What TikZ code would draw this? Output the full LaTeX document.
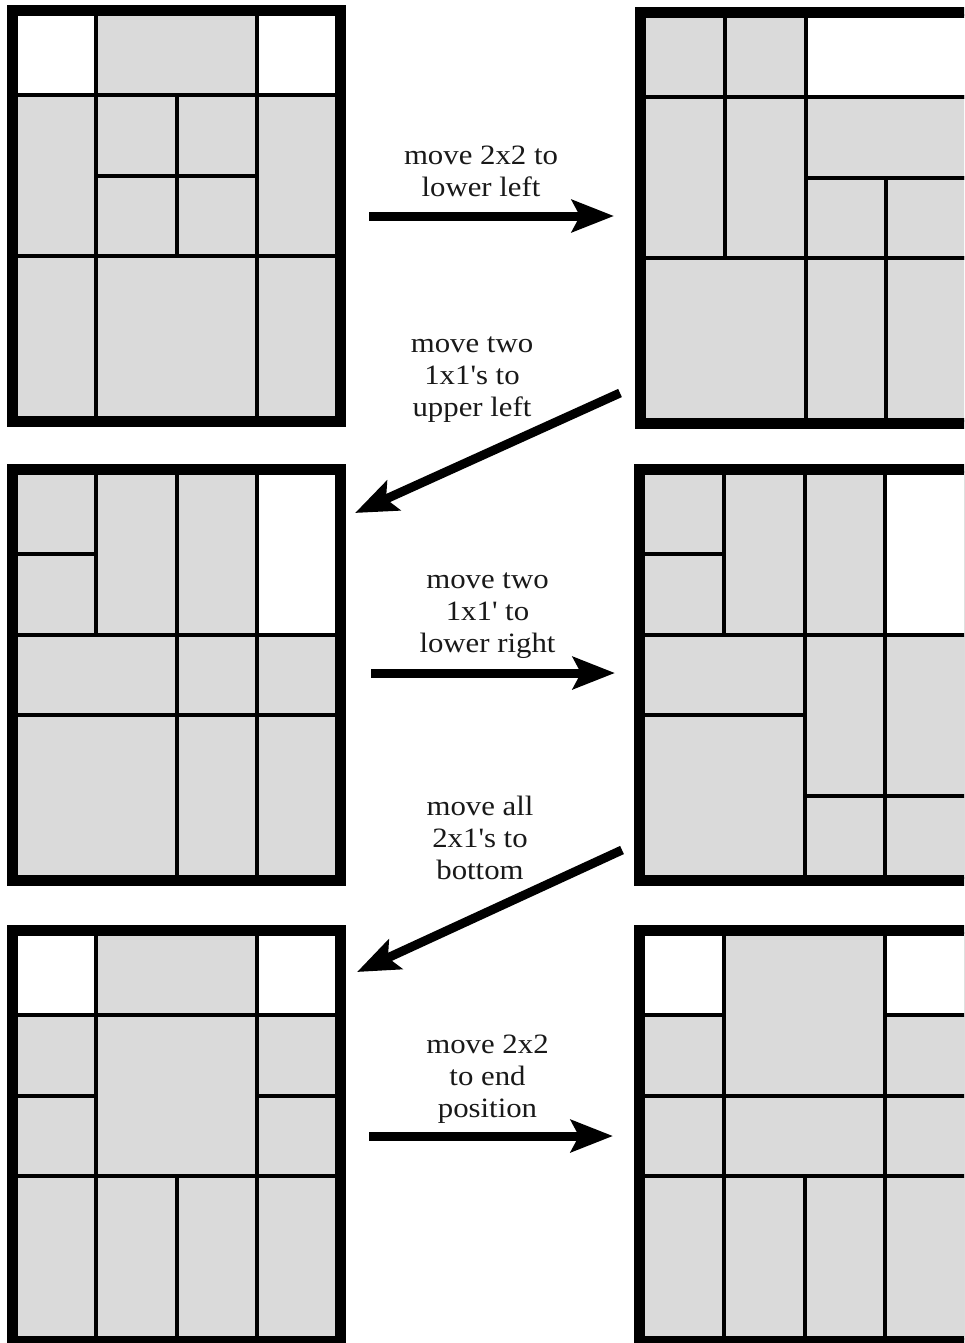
\documentclass[tikz,border=0pt]{standalone}
\usepackage{fontspec}
\usetikzlibrary{arrows.meta}
\newfontfamily\lblfont{Liberation Serif}[FakeStretch=1.1]
\definecolor{cellgray}{RGB}{218,218,218}
\newcommand\piecebox[4]{\filldraw[piece] (#1,#2) rectangle ++(#3,#4);}
\newcommand\holebox[4]{\filldraw[hole] (#1,#2) rectangle ++(#3,#4);}
\newcommand\boardframe{\draw[boardborder] ([shift={(-4.5pt,4.5pt)}]0,0) rectangle ([shift={(4.5pt,-4.5pt)}]4,5);}
\tikzset{
  piece/.style={fill=cellgray, draw=black, line width=4pt},
  hole/.style={fill=white, draw=black, line width=4pt},
  boardborder/.style={draw=black, line width=9pt},
  leftgrid/.style={x=80.25pt, y=-80.8pt},
  rightgrid/.style={x=80.8pt, y=-80.8pt},
  movearrow/.style={line width=9pt, -{Stealth[length=42pt, width=32pt, inset=8pt]}},
  lbl/.style={inner sep=0pt, align=center, text=black!90,
    font=\lblfont\fontsize{28}{32}\selectfont}
}
\begin{document}
\begin{tikzpicture}[x=1pt, y=-1pt]
\useasboundingbox (0,0) rectangle (964,1343);
\fill[white] (0,0) rectangle (964,1343);
\clip (0,0) rectangle (964,1343);

% Board 1
\begin{scope}[shift={(16,14)}, leftgrid]
\coordinate (board1) at (0,0);
\holebox{0}{0}{1}{1} \holebox{3}{0}{1}{1}
\piecebox{1}{0}{2}{1}
\piecebox{0}{1}{1}{2}
\piecebox{1}{1}{1}{1} \piecebox{2}{1}{1}{1} \piecebox{1}{2}{1}{1} \piecebox{2}{2}{1}{1}
\piecebox{3}{1}{1}{2}
\piecebox{0}{3}{1}{2} \piecebox{1}{3}{2}{2} \piecebox{3}{3}{1}{2}
\boardframe
\end{scope}

% Board 2
\begin{scope}[shift={(644,16)}, rightgrid]
\coordinate (board2) at (0,0);
\piecebox{0}{0}{1}{1} \piecebox{1}{0}{1}{1} \holebox{2}{0}{2}{1}
\piecebox{0}{1}{1}{2} \piecebox{1}{1}{1}{2} \piecebox{2}{1}{2}{1}
\piecebox{2}{2}{1}{1} \piecebox{3}{2}{1}{1}
\piecebox{0}{3}{2}{2} \piecebox{2}{3}{1}{2} \piecebox{3}{3}{1}{2}
\boardframe
\end{scope}

% Board 3
\begin{scope}[shift={(16,473)}, leftgrid]
\coordinate (board3) at (0,0);
\piecebox{0}{0}{1}{1} \piecebox{0}{1}{1}{1} \piecebox{1}{0}{1}{2} \piecebox{2}{0}{1}{2} \holebox{3}{0}{1}{2}
\piecebox{0}{2}{2}{1} \piecebox{2}{2}{1}{1} \piecebox{3}{2}{1}{1}
\piecebox{0}{3}{2}{2} \piecebox{2}{3}{1}{2} \piecebox{3}{3}{1}{2}
\boardframe
\end{scope}

% Board 4
\begin{scope}[shift={(643,473)}, rightgrid]
\coordinate (board4) at (0,0);
\piecebox{0}{0}{1}{1} \piecebox{0}{1}{1}{1} \piecebox{1}{0}{1}{2} \piecebox{2}{0}{1}{2} \holebox{3}{0}{1}{2}
\piecebox{0}{2}{2}{1} \piecebox{2}{2}{1}{2} \piecebox{3}{2}{1}{2}
\piecebox{0}{3}{2}{2} \piecebox{2}{4}{1}{1} \piecebox{3}{4}{1}{1}
\boardframe
\end{scope}

% Board 5
\begin{scope}[shift={(16,934)}, leftgrid]
\coordinate (board5) at (0,0);
\holebox{0}{0}{1}{1} \piecebox{1}{0}{2}{1} \holebox{3}{0}{1}{1}
\piecebox{0}{1}{1}{1} \piecebox{0}{2}{1}{1} \piecebox{1}{1}{2}{2} \piecebox{3}{1}{1}{1} \piecebox{3}{2}{1}{1}
\piecebox{0}{3}{1}{2} \piecebox{1}{3}{1}{2} \piecebox{2}{3}{1}{2} \piecebox{3}{3}{1}{2}
\boardframe
\end{scope}

% Board 6
\begin{scope}[shift={(643,934)}, rightgrid]
\coordinate (board6) at (0,0);
\holebox{0}{0}{1}{1} \piecebox{1}{0}{2}{2} \holebox{3}{0}{1}{1}
\piecebox{0}{1}{1}{1} \piecebox{0}{2}{1}{1} \piecebox{3}{1}{1}{1} \piecebox{3}{2}{1}{1}
\piecebox{1}{2}{2}{1}
\piecebox{0}{3}{1}{2} \piecebox{1}{3}{1}{2} \piecebox{2}{3}{1}{2} \piecebox{3}{3}{1}{2}
\boardframe
\end{scope}

% Arrow end points
\coordinate (a1s) at (369,216);  \coordinate (a1e) at (614,216);
\coordinate (a2s) at (620,393);  \coordinate (a2e) at (355,513);
\coordinate (a3s) at (371,673);  \coordinate (a3e) at (615,673);
\coordinate (a4s) at (622,850);  \coordinate (a4e) at (357,972);
\coordinate (a5s) at (369,1136); \coordinate (a5e) at (613,1136);

\draw[movearrow] (a1s) -- (a1e);
\draw[movearrow] (a2s) -- (a2e);
\draw[movearrow] (a3s) -- (a3e);
\draw[movearrow] (a4s) -- (a4e);
\draw[movearrow] (a5s) -- (a5e);

% Labels
\node[lbl] (l1) at (481,174.6) {\strut move 2x2 to\\\strut lower left};
\node[lbl] (l2) at (472,377.6) {\strut move two\\\strut 1x1's to\\\strut upper left};
\node[lbl] (l3) at (487.5,613.6) {\strut move two\\\strut 1x1' to\\\strut lower right};
\node[lbl] (l4) at (480,840.6) {\strut move all\\\strut 2x1's to\\\strut bottom};
\node[lbl] (l5) at (487.5,1078.6) {\strut move 2x2\\\strut to end\\\strut position};
\end{tikzpicture}
\end{document}
